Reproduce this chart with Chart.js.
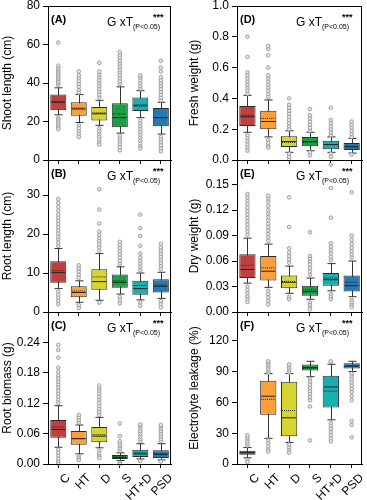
<!DOCTYPE html>
<html>
<head>
<meta charset="utf-8">
<script src="https://cdn.jsdelivr.net/npm/chart.js@4/dist/chart.umd.min.js"></script>
<style>
  body { margin: 0; background: #fff; width: 367px; height: 500px; position: relative; overflow: hidden; }
  canvas { position: absolute; }
</style>
</head>
<body>
<canvas id="shootChart"></canvas>
<canvas id="rootLenChart"></canvas>
<canvas id="biomassChart"></canvas>
<canvas id="freshChart"></canvas>
<canvas id="dryChart"></canvas>
<canvas id="leakChart"></canvas>
<script>
// treatments on the x axis
const categories = ['C', 'HT', 'D', 'S', 'HT+D', 'PSD'];

// (A) shoot length (cm)
const shootQ1 = [25.8, 23, 20.5, 17, 25.5, 17.5];
const shootMedian = [30, 26.5, 24, 22, 28.5, 22];
const shootQ3 = [34, 30, 27.5, 29.5, 32.5, 27];
const shootMean = [30.5, 27, 24.5, 24, 28, 22];
const shootLow = [23.5, 19.5, 18, 14, 22, 13.5];
const shootHigh = [37.5, 34, 31, 38, 36, 30];
const shootOutliers = [
  [39, 40, 41, 42, 43, 44, 45, 46, 47, 48, 49, 61, 22, 21, 20, 19, 18, 17, 16],
  [35, 36.5, 38, 39.5, 41, 42.5, 44, 46, 18, 16.5, 15, 13.5, 12],
  [32.5, 34, 35.5, 37, 38.5, 40, 41.5, 43, 44.5, 46, 50.5, 16.5, 15, 13.5, 12, 10.5, 9, 8],
  [39.5, 41, 42.5, 44, 45.5, 47, 48.5, 50, 51.5, 53, 54.5, 56, 12.5, 11, 9.5, 8, 6.5, 5],
  [37, 38.5, 40, 41.5, 43, 44, 20.5, 19, 17.5, 16, 14.5, 13, 11.5, 10, 8.5, 7, 6],
  [31, 32.5, 34, 35.5, 37, 38.5, 40, 41.5, 43, 46, 48, 51.5, 12, 10.5, 9, 7.5, 6, 4.5]
];
const shootTicks = [0, 20, 40, 60, 80];

// (B) root length (cm)
const rootLenQ1 = [7.5, 3.8, 5.7, 6.2, 4.4, 5.0];
const rootLenMedian = [10.1, 5.0, 7.8, 7.6, 6.0, 6.6];
const rootLenQ3 = [13.0, 6.6, 11.0, 9.6, 8.0, 8.4];
const rootLenMean = [10.6, 5.4, 9.0, 8.0, 6.8, 6.9];
const rootLenLow = [6.0, 2.5, 3.0, 4.6, 3.1, 3.5];
const rootLenHigh = [16.3, 8.0, 15.0, 11.6, 10.0, 10.2];
const rootLenOutliers = [
  [17, 17.8, 18.6, 19.4, 20.2, 21, 21.8, 22.6, 23.4, 24.2, 25, 26, 27, 28, 29, 5.2, 4.4, 3.6, 2.8, 2],
  [8.8, 9.6, 10.4, 11.2, 12, 1.8, 1],
  [15.8, 16.6, 17.4, 18.2, 19, 19.8, 20.6, 22.7, 26.3, 31.5, 2.4],
  [12.4, 13.2, 14, 14.8, 15.6, 16.4, 17.2, 18, 3.8, 3, 2.2],
  [10.8, 11.6, 12.4, 13.2, 14, 15, 17, 19.5, 21.5, 25, 2.4, 1.6],
  [11, 11.8, 12.6, 13.4, 14.2, 15, 15.8, 16.6, 17.5, 2.8, 2, 1.2]
];
const rootLenTicks = [0, 10, 20, 30];

// (C) root biomass (g)
const biomassQ1 = [0.052, 0.038, 0.043, 0.010, 0.014, 0.012];
const biomassMedian = [0.068, 0.050, 0.055, 0.013, 0.020, 0.019];
const biomassQ3 = [0.087, 0.065, 0.073, 0.018, 0.028, 0.027];
const biomassMean = [0.073, 0.050, 0.058, 0.014, 0.022, 0.020];
const biomassLow = [0.033, 0.020, 0.032, 0.007, 0.010, 0.008];
const biomassHigh = [0.115, 0.077, 0.092, 0.022, 0.040, 0.040];
const biomassOutliers = [
  [0.121, 0.127, 0.133, 0.139, 0.145, 0.151, 0.157, 0.163, 0.169, 0.175, 0.182, 0.19, 0.21, 0.225, 0.235, 0.028, 0.022, 0.016, 0.010, 0.004, 0.0],
  [0.082, 0.087, 0.092, 0.097, 0.015, 0.011, 0.008],
  [0.097, 0.103, 0.109, 0.115, 0.121, 0.127, 0.133, 0.139, 0.145, 0.150, 0.155, 0.026, 0.020, 0.015, 0.012],
  [0.026, 0.031, 0.036, 0.041, 0.045, 0.055, 0.080, 0.003, 0.0],
  [0.045, 0.050, 0.055, 0.060, 0.065, 0.070, 0.075, 0.078, 0.006],
  [0.045, 0.050, 0.055, 0.060, 0.065, 0.070, 0.074, 0.077, 0.005]
];
const biomassTicks = [0, 0.06, 0.12, 0.18, 0.24];

// (D) fresh weight (g)
const freshQ1 = [0.22, 0.20, 0.085, 0.09, 0.07, 0.065];
const freshMedian = [0.28, 0.25, 0.12, 0.12, 0.10, 0.085];
const freshQ3 = [0.35, 0.32, 0.155, 0.15, 0.125, 0.11];
const freshMean = [0.29, 0.27, 0.115, 0.115, 0.10, 0.09];
const freshLow = [0.18, 0.15, 0.05, 0.06, 0.05, 0.045];
const freshHigh = [0.42, 0.39, 0.19, 0.18, 0.15, 0.14];
const freshOutliers = [
  [0.43, 0.45, 0.47, 0.49, 0.51, 0.53, 0.55, 0.57, 0.67, 0.80, 0.16, 0.14, 0.12, 0.10, 0.08, 0.06],
  [0.41, 0.43, 0.45, 0.47, 0.49, 0.51, 0.53, 0.55, 0.60, 0.68, 0.72, 0.74, 0.13, 0.11, 0.09, 0.08],
  [0.20, 0.22, 0.24, 0.26, 0.28, 0.30, 0.32, 0.34, 0.36, 0.40, 0.04, 0.02, 0.00],
  [0.19, 0.21, 0.23, 0.25, 0.27, 0.29, 0.33, 0.05, 0.03],
  [0.16, 0.18, 0.20, 0.22, 0.24, 0.26, 0.34, 0.04, 0.02, -0.03],
  [0.15, 0.17, 0.19, 0.21, 0.23, 0.25, 0.035]
];
const freshTicks = [0, 0.2, 0.4, 0.6, 0.8, 1.0];

// (E) dry weight (g)
const dryQ1 = [0.040, 0.037, 0.028, 0.019, 0.031, 0.024];
const dryMedian = [0.050, 0.048, 0.035, 0.024, 0.038, 0.031];
const dryQ3 = [0.068, 0.066, 0.043, 0.031, 0.046, 0.043];
const dryMean = [0.055, 0.052, 0.036, 0.026, 0.040, 0.035];
const dryLow = [0.034, 0.029, 0.022, 0.015, 0.025, 0.018];
const dryHigh = [0.087, 0.080, 0.054, 0.040, 0.057, 0.060];
const dryOutliers = [
  [0.091, 0.095, 0.099, 0.103, 0.107, 0.111, 0.115, 0.119, 0.123, 0.127, 0.131, 0.135, 0.139, 0.030, 0.026, 0.022, 0.018, 0.015, 0.012],
  [0.084, 0.088, 0.092, 0.096, 0.100, 0.104, 0.108, 0.112, 0.116, 0.120, 0.125, 0.130, 0.134, 0.137, 0.025, 0.021, 0.017, 0.013, 0.009],
  [0.058, 0.062, 0.066, 0.070, 0.075, 0.100, 0.135, 0.018, 0.015],
  [0.044, 0.048, 0.052, 0.056, 0.060, 0.063, 0.066, 0.094, 0.011, 0.008, 0.005, 0.003],
  [0.061, 0.065, 0.069, 0.073, 0.077, 0.081, 0.111, 0.146, 0.021, 0.018, 0.015],
  [0.064, 0.068, 0.072, 0.076, 0.080, 0.085, 0.090, 0.141, 0.014, 0.011, 0.008, 0.006]
];
const dryTicks = [0, 0.03, 0.06, 0.09, 0.12, 0.15];

// (F) electrolyte leakage (%)
const leakQ1 = [9, 48, 27, 91, 55, 93];
const leakMedian = [11, 66, 45, 94, 75, 95.5];
const leakQ3 = [13, 81, 80, 97, 86, 98];
const leakMean = [11, 63, 52, 93, 71, 95];
const leakLow = [6, 25, 21, 85, 43, 90];
const leakHigh = [16, 88, 88, 100, 97, 100];
const leakOutliers = [
  [18, 20, 22, 24, 26, 28, 4, 2],
  [89, 91, 93, 95, 97, 99, 100, 23, 20, 17, 14, 12],
  [89, 91, 93, 95, 97, 19, 16, 13, 11],
  [83, 80, 77, 74, 71, 68, 65, 62, 56, 23],
  [99, 100, 40, 37, 34, 31, 28, 25, 22],
  [88, 85, 82, 79, 76, 73, 70, 66, 62, 42, 38, 26]
];
const leakTicks = [0, 30, 60, 90, 120];

const boxColors = ['#c0403f', '#f9a03a', '#d6d42e', '#1c9e45', '#17afb0', '#2678b4'];
const fontFamily = "Arial, 'Liberation Sans', Helvetica, sans-serif";

Chart.defaults.font.family = fontFamily;
Chart.defaults.color = '#000';

// whiskers under the boxes, median + mean lines on top
const boxStatsPlugin = {
  id: 'boxStats',
  beforeDatasetsDraw(chart, args, opts) {
    const ctx = chart.ctx;
    const x = chart.scales.x, y = chart.scales.y;
    const bars = chart.getDatasetMeta(0).data;
    ctx.save();
    ctx.strokeStyle = '#333';
    ctx.lineWidth = 1;
    opts.low.forEach((lo, i) => {
      const cx = Math.round(x.getPixelForValue(i)) + 0.5;
      const half = bars[i].width / 4;
      const yl = y.getPixelForValue(lo), yh = y.getPixelForValue(opts.high[i]);
      ctx.beginPath();
      ctx.moveTo(cx, yl); ctx.lineTo(cx, yh);
      ctx.moveTo(cx - half, yl); ctx.lineTo(cx + half, yl);
      ctx.moveTo(cx - half, yh); ctx.lineTo(cx + half, yh);
      ctx.stroke();
    });
    ctx.restore();
  },
  afterDatasetsDraw(chart, args, opts) {
    const ctx = chart.ctx;
    const y = chart.scales.y;
    const bars = chart.getDatasetMeta(0).data;
    ctx.save();
    ctx.strokeStyle = '#222';
    opts.median.forEach((m, i) => {
      const b = bars[i];
      const l = b.x - b.width / 2 + 1, r = b.x + b.width / 2 - 1;
      ctx.setLineDash([]);
      ctx.lineWidth = 1;
      ctx.beginPath();
      ctx.moveTo(l, y.getPixelForValue(m)); ctx.lineTo(r, y.getPixelForValue(m));
      ctx.stroke();
      ctx.setLineDash([1, 1]);
      ctx.beginPath();
      ctx.moveTo(l, y.getPixelForValue(opts.mean[i])); ctx.lineTo(r, y.getPixelForValue(opts.mean[i]));
      ctx.stroke();
    });
    ctx.restore();
  }
};

// full frame round the plot + panel letter and G x T note
const panelPlugin = {
  id: 'panelNote',
  afterDraw(chart, args, opts) {
    const ctx = chart.ctx;
    const a = chart.chartArea;
    ctx.save();
    ctx.strokeStyle = '#000';
    ctx.lineWidth = 1;
    ctx.strokeRect(Math.round(a.left) + 0.5, Math.round(a.top) + 0.5, Math.round(a.width) - 1, Math.round(a.height));
    ctx.fillStyle = '#000';
    ctx.font = 'bold 11px ' + fontFamily;
    ctx.fillText(opts.letter, a.left + 3, a.top + 17);
    ctx.font = '12px ' + fontFamily;
    ctx.fillText('G xT', a.left + 59, a.top + 20);
    const w = ctx.measureText('G xT').width;
    ctx.font = '7px ' + fontFamily;
    ctx.fillText('(P<0.05)', a.left + 59 + w, a.top + 23);
    ctx.font = 'bold 9px ' + fontFamily;
    ctx.fillText('***', a.left + 105, a.top + 14);
    ctx.restore();
  }
};

// y tick labels stick out half a line above and below the plot
const edgePad = 11;

function makePanel(id, p) {
  const canvas = document.getElementById(id);
  canvas.width = p.width;
  canvas.height = edgePad + p.plotHeight + p.xHeight;
  canvas.style.left = p.left + 'px';
  canvas.style.top = (p.plotTop - edgePad) + 'px';

  new Chart(canvas, {
    type: 'bar',
    data: {
      labels: categories,
      datasets: [
        {
          data: p.q1.map((v, i) => [v, p.q3[i]]),
          backgroundColor: boxColors,
          borderColor: '#2b2b2b',
          borderWidth: 1,
          borderSkipped: false,
          barPercentage: 0.78,
          categoryPercentage: 1
        },
        {
          type: 'line',
          showLine: false,
          clip: false,
          data: p.outliers.flatMap((vals, i) => vals.map(v => ({ x: categories[i], y: v }))),
          pointRadius: 1.8,
          pointBorderColor: '#969696',
          pointBackgroundColor: '#e6e6e6',
          pointBorderWidth: 0.9
        }
      ]
    },
    options: {
      responsive: false,
      animation: false,
      layout: { padding: { top: edgePad, right: 1, left: 0, bottom: 0 } },
      plugins: {
        legend: { display: false },
        tooltip: { enabled: false },
        boxStats: { low: p.low, high: p.high, median: p.median, mean: p.mean },
        panelNote: { letter: p.letter }
      },
      scales: {
        x: {
          offset: true,
          grid: { offset: false, drawOnChartArea: false, tickLength: 4, color: '#000' },
          border: { color: '#000' },
          ticks: {
            display: p.showX,
            font: { size: 12 },
            minRotation: 45,
            maxRotation: 45,
            autoSkip: false,
            labelOffset: 10,
            padding: 3
          },
          afterFit: s => { s.height = p.xHeight; }
        },
        y: {
          min: p.min,
          max: p.max,
          grid: { drawOnChartArea: false, tickLength: 5, color: '#000' },
          border: { color: '#000' },
          ticks: {
            font: { size: 12 },
            padding: 3,
            callback: v => v.toFixed(p.decimals)
          },
          afterBuildTicks: s => { s.ticks = p.ticks.map(v => ({ value: v })); },
          afterFit: s => { s.width = p.yWidth; },
          title: { display: true, text: p.title, font: { size: 12 }, padding: { top: p.titlePad, bottom: 0 } }
        }
      }
    },
    plugins: [boxStatsPlugin, panelPlugin]
  });
}

// left column
makePanel('shootChart', {
  left: 0, plotTop: 6, plotHeight: 154, width: 176, yWidth: 48, xHeight: 11, showX: false, titlePad: 0,
  min: 0, max: 80, ticks: shootTicks, decimals: 0, title: 'Shoot length (cm)', letter: '(A)',
  q1: shootQ1, median: shootMedian, q3: shootQ3, mean: shootMean, low: shootLow, high: shootHigh, outliers: shootOutliers
});
makePanel('rootLenChart', {
  left: 0, plotTop: 160, plotHeight: 152, width: 176, yWidth: 48, xHeight: 11, showX: false, titlePad: 0,
  min: 0, max: 39, ticks: rootLenTicks, decimals: 0, title: 'Root length (cm)', letter: '(B)',
  q1: rootLenQ1, median: rootLenMedian, q3: rootLenQ3, mean: rootLenMean, low: rootLenLow, high: rootLenHigh, outliers: rootLenOutliers
});
makePanel('biomassChart', {
  left: 0, plotTop: 312, plotHeight: 152, width: 176, yWidth: 48, xHeight: 36, showX: true, titlePad: 0,
  min: 0, max: 0.3, ticks: biomassTicks, decimals: 2, title: 'Root biomass (g)', letter: '(C)',
  q1: biomassQ1, median: biomassMedian, q3: biomassQ3, mean: biomassMean, low: biomassLow, high: biomassHigh, outliers: biomassOutliers
});

// right column
makePanel('freshChart', {
  left: 184, plotTop: 6, plotHeight: 154, width: 183, yWidth: 53, xHeight: 11, showX: false, titlePad: 3,
  min: 0, max: 1.0, ticks: freshTicks, decimals: 1, title: 'Fresh weight (g)', letter: '(D)',
  q1: freshQ1, median: freshMedian, q3: freshQ3, mean: freshMean, low: freshLow, high: freshHigh, outliers: freshOutliers
});
makePanel('dryChart', {
  left: 184, plotTop: 160, plotHeight: 152, width: 183, yWidth: 53, xHeight: 11, showX: false, titlePad: 3,
  min: 0, max: 0.179, ticks: dryTicks, decimals: 2, title: 'Dry weight (g)', letter: '(E)',
  q1: dryQ1, median: dryMedian, q3: dryQ3, mean: dryMean, low: dryLow, high: dryHigh, outliers: dryOutliers
});
makePanel('leakChart', {
  left: 184, plotTop: 312, plotHeight: 152, width: 183, yWidth: 53, xHeight: 36, showX: true, titlePad: 3,
  min: 0, max: 148, ticks: leakTicks, decimals: 0, title: 'Electrolyte leakage (%)', letter: '(F)',
  q1: leakQ1, median: leakMedian, q3: leakQ3, mean: leakMean, low: leakLow, high: leakHigh, outliers: leakOutliers
});
</script>
</body>
</html>
